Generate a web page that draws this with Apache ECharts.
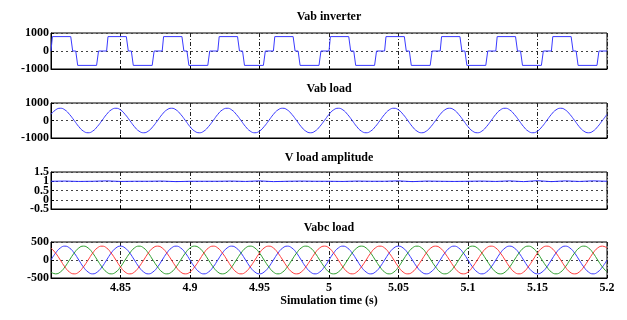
<!DOCTYPE html>
<html>
<head>
<meta charset="utf-8">
<script src="https://cdn.jsdelivr.net/npm/echarts@6/dist/echarts.min.js"></script>
<style>
  html, body { margin: 0; padding: 0; background: #fff; }
  #chart { width: 627px; height: 320px; }
</style>
</head>
<body>
<div id="chart"></div>
<script>
// plot titles
const titles = ["Vab inverter", "Vab load", "V load amplitude", "Vabc load"];
const xName = "Simulation time (s)";

// Vab inverter: corner points of the stepped waveform (time, volts)
const invT = [4.8,
  4.8010, 4.8142, 4.8156, 4.8178, 4.8192, 4.8328, 4.8342, 4.8400,
  4.8410, 4.8542, 4.8556, 4.8578, 4.8592, 4.8728, 4.8742, 4.8800,
  4.8810, 4.8942, 4.8956, 4.8978, 4.8992, 4.9128, 4.9142, 4.9200,
  4.9210, 4.9342, 4.9356, 4.9378, 4.9392, 4.9528, 4.9542, 4.9600,
  4.9610, 4.9742, 4.9756, 4.9778, 4.9792, 4.9928, 4.9942, 5.0000,
  5.0010, 5.0142, 5.0156, 5.0178, 5.0192, 5.0328, 5.0342, 5.0400,
  5.0410, 5.0542, 5.0556, 5.0578, 5.0592, 5.0728, 5.0742, 5.0800,
  5.0810, 5.0942, 5.0956, 5.0978, 5.0992, 5.1128, 5.1142, 5.1200,
  5.1210, 5.1342, 5.1356, 5.1378, 5.1392, 5.1528, 5.1542, 5.1600,
  5.1610, 5.1742, 5.1756, 5.1778, 5.1792, 5.1928, 5.1942, 5.2000];
const invV = [0,
  800, 800, 0, 0, -800, -800, 0, 0,
  800, 800, 0, 0, -800, -800, 0, 0,
  800, 800, 0, 0, -800, -800, 0, 0,
  800, 800, 0, 0, -800, -800, 0, 0,
  800, 800, 0, 0, -800, -800, 0, 0,
  800, 800, 0, 0, -800, -800, 0, 0,
  800, 800, 0, 0, -800, -800, 0, 0,
  800, 800, 0, 0, -800, -800, 0, 0,
  800, 800, 0, 0, -800, -800, 0, 0,
  800, 800, 0, 0, -800, -800, 0, 0];

// sample times for the sinusoidal traces
const tSamp = [
  4.8, 4.8033, 4.8067, 4.81, 4.8133, 4.8167, 4.82, 4.8233, 4.8267, 4.83, 4.8333, 4.8367,
  4.84, 4.8433, 4.8467, 4.85, 4.8533, 4.8567, 4.86, 4.8633, 4.8667, 4.87, 4.8733, 4.8767,
  4.88, 4.8833, 4.8867, 4.89, 4.8933, 4.8967, 4.9, 4.9033, 4.9067, 4.91, 4.9133, 4.9167,
  4.92, 4.9233, 4.9267, 4.93, 4.9333, 4.9367, 4.94, 4.9433, 4.9467, 4.95, 4.9533, 4.9567,
  4.96, 4.9633, 4.9667, 4.97, 4.9733, 4.9767, 4.98, 4.9833, 4.9867, 4.99, 4.9933, 4.9967,
  5.0, 5.0033, 5.0067, 5.01, 5.0133, 5.0167, 5.02, 5.0233, 5.0267, 5.03, 5.0333, 5.0367,
  5.04, 5.0433, 5.0467, 5.05, 5.0533, 5.0567, 5.06, 5.0633, 5.0667, 5.07, 5.0733, 5.0767,
  5.08, 5.0833, 5.0867, 5.09, 5.0933, 5.0967, 5.1, 5.1033, 5.1067, 5.11, 5.1133, 5.1167,
  5.12, 5.1233, 5.1267, 5.13, 5.1333, 5.1367, 5.14, 5.1433, 5.1467, 5.15, 5.1533, 5.1567,
  5.16, 5.1633, 5.1667, 5.17, 5.1733, 5.1767, 5.18, 5.1833, 5.1867, 5.19, 5.1933, 5.1967,
  5.2];

// Vab load (line-line voltage)
const vabLoad = [
  350, 606, 700, 606, 350, 0, -350, -606, -700, -606, -350, 0,
  350, 606, 700, 606, 350, 0, -350, -606, -700, -606, -350, 0,
  350, 606, 700, 606, 350, 0, -350, -606, -700, -606, -350, 0,
  350, 606, 700, 606, 350, 0, -350, -606, -700, -606, -350, 0,
  350, 606, 700, 606, 350, 0, -350, -606, -700, -606, -350, 0,
  350, 606, 700, 606, 350, 0, -350, -606, -700, -606, -350, 0,
  350, 606, 700, 606, 350, 0, -350, -606, -700, -606, -350, 0,
  350, 606, 700, 606, 350, 0, -350, -606, -700, -606, -350, 0,
  350, 606, 700, 606, 350, 0, -350, -606, -700, -606, -350, 0,
  350, 606, 700, 606, 350, 0, -350, -606, -700, -606, -350, 0,
  350];

// Vabc load, phase voltages
const va = [
  0, 193, 334, 385, 334, 193, 0, -193, -334, -385, -334, -193,
  0, 193, 334, 385, 334, 193, 0, -193, -334, -385, -334, -193,
  0, 193, 334, 385, 334, 193, 0, -193, -334, -385, -334, -193,
  0, 193, 334, 385, 334, 193, 0, -193, -334, -385, -334, -193,
  0, 193, 334, 385, 334, 193, 0, -193, -334, -385, -334, -193,
  0, 193, 334, 385, 334, 193, 0, -193, -334, -385, -334, -193,
  0, 193, 334, 385, 334, 193, 0, -193, -334, -385, -334, -193,
  0, 193, 334, 385, 334, 193, 0, -193, -334, -385, -334, -193,
  0, 193, 334, 385, 334, 193, 0, -193, -334, -385, -334, -193,
  0, 193, 334, 385, 334, 193, 0, -193, -334, -385, -334, -193,
  0];
const vb = [
  -334, -385, -334, -193, 0, 193, 334, 385, 334, 193, 0, -193,
  -334, -385, -334, -193, 0, 193, 334, 385, 334, 193, 0, -193,
  -334, -385, -334, -193, 0, 193, 334, 385, 334, 193, 0, -193,
  -334, -385, -334, -193, 0, 193, 334, 385, 334, 193, 0, -193,
  -334, -385, -334, -193, 0, 193, 334, 385, 334, 193, 0, -193,
  -334, -385, -334, -193, 0, 193, 334, 385, 334, 193, 0, -193,
  -334, -385, -334, -193, 0, 193, 334, 385, 334, 193, 0, -193,
  -334, -385, -334, -193, 0, 193, 334, 385, 334, 193, 0, -193,
  -334, -385, -334, -193, 0, 193, 334, 385, 334, 193, 0, -193,
  -334, -385, -334, -193, 0, 193, 334, 385, 334, 193, 0, -193,
  -334];
const vc = [
  334, 193, 0, -193, -334, -385, -334, -193, 0, 193, 334, 385,
  334, 193, 0, -193, -334, -385, -334, -193, 0, 193, 334, 385,
  334, 193, 0, -193, -334, -385, -334, -193, 0, 193, 334, 385,
  334, 193, 0, -193, -334, -385, -334, -193, 0, 193, 334, 385,
  334, 193, 0, -193, -334, -385, -334, -193, 0, 193, 334, 385,
  334, 193, 0, -193, -334, -385, -334, -193, 0, 193, 334, 385,
  334, 193, 0, -193, -334, -385, -334, -193, 0, 193, 334, 385,
  334, 193, 0, -193, -334, -385, -334, -193, 0, 193, 334, 385,
  334, 193, 0, -193, -334, -385, -334, -193, 0, 193, 334, 385,
  334, 193, 0, -193, -334, -385, -334, -193, 0, 193, 334, 385,
  334];

// V load amplitude (per unit)
const ampT = [
  4.8, 4.81, 4.82, 4.83, 4.84, 4.85, 4.86, 4.87, 4.88, 4.89,
  4.9, 4.91, 4.92, 4.93, 4.94, 4.95, 4.96, 4.97, 4.98, 4.99,
  5.0, 5.01, 5.02, 5.03, 5.04, 5.05, 5.06, 5.07, 5.08, 5.09,
  5.1, 5.11, 5.12, 5.13, 5.14, 5.15, 5.16, 5.17, 5.18, 5.19, 5.2];
const ampV = [
  1.0, 1.01, 0.99, 1.0, 1.02, 0.99, 1.0, 1.0, 1.01, 0.98,
  1.0, 1.0, 1.0, 1.01, 0.99, 1.02, 0.98, 1.0, 1.01, 1.0,
  1.0, 0.99, 1.01, 1.0, 1.0, 1.02, 0.98, 1.01, 1.0, 0.99,
  1.0, 1.01, 0.99, 1.02, 0.98, 1.03, 0.98, 1.02, 0.99, 1.02, 1.0];

// y axis settings per panel
const yMins = [-1000, -1000, -0.5, -500];
const yMaxs = [1000, 1000, 1.5, 500];
const ySteps = [1000, 1000, 0.5, 500];
// panel 3 tick labels are split over two axes so the crowded ones all stay visible
const ampLabelsA = ["1.5", "0.5", "-0.5"];
const ampLabelsB = ["1", "0"];

const pairs = (xs, ys) => xs.map((x, i) => [x, ys[i]]);
const fmt = (v) => String(+v.toFixed(2));

const grids = [
  { top: 33, height: 36 },
  { top: 103, height: 35 },
  { top: 172, height: 37 },
  { top: 242, height: 36 },
];
const titleY = [17, 89, 158, 228];
const serif = '"Liberation Serif", "DejaVu Serif", serif';
const textFont = 'bold 12px "Liberation Serif"';
const labelStyle = { color: "#000", fontFamily: serif, fontWeight: "bold", fontSize: 12 };

const yAxes = grids.map((g, i) => ({
  type: "value", gridIndex: i, min: yMins[i], max: yMaxs[i], interval: ySteps[i],
  axisLine: { show: true, lineStyle: { color: "#000" } },
  axisTick: { show: true, inside: true, length: 3, lineStyle: { color: "#000" } },
  axisLabel: Object.assign({
    margin: 2, showMinLabel: true, showMaxLabel: true, hideOverlap: false,
    formatter: i === 2 ? (v) => (ampLabelsA.includes(fmt(v)) ? fmt(v) : "") : fmt,
  }, labelStyle),
  splitLine: { show: true, lineStyle: { color: "#444", width: 1, type: [2, 3] } },
}));
// second label-only axis for panel 3
yAxes.push({
  type: "value", gridIndex: 2, position: "left", min: -0.5, max: 1.5, interval: 0.5,
  axisLine: { show: false }, axisTick: { show: false }, splitLine: { show: false },
  axisLabel: Object.assign({
    margin: 2, showMinLabel: false, showMaxLabel: false, hideOverlap: false,
    formatter: (v) => (ampLabelsB.includes(fmt(v)) ? fmt(v) : ""),
  }, labelStyle),
});

const chart = echarts.init(document.getElementById("chart"));
chart.setOption({
  animation: false,
  backgroundColor: "#fff",
  grid: grids.map((g) => ({
    left: 51, right: 20, top: g.top, height: g.height,
    show: true, borderColor: "#000", borderWidth: 1,
  })),
  xAxis: grids.map((g, i) => ({
    type: "value", gridIndex: i, min: 4.8, max: 5.2, interval: 0.05,
    axisLine: { show: true, onZero: false, lineStyle: { color: "#000" } },
    axisTick: { show: true, inside: true, length: 3, lineStyle: { color: "#000" } },
    axisLabel: Object.assign({
      show: i === 3, showMinLabel: false, showMaxLabel: true, margin: 4, formatter: fmt,
    }, labelStyle),
    splitLine: { show: true, lineStyle: { color: "#222", width: 1, type: [4, 2, 1, 2] } },
  })),
  yAxis: yAxes,
  graphic: titles.map((t, i) => ({
    type: "text", x: 329, y: titleY[i],
    style: { text: t, align: "center", verticalAlign: "middle", font: textFont, fill: "#000" },
  })).concat([{
    type: "text", x: 329, y: 301,
    style: { text: xName, align: "center", verticalAlign: "middle", font: textFont, fill: "#000" },
  }]),
  series: [
    {
      type: "line", xAxisIndex: 0, yAxisIndex: 0, showSymbol: false,
      lineStyle: { color: "#3a3aff", width: 1 }, data: pairs(invT, invV),
    },
    {
      type: "line", xAxisIndex: 1, yAxisIndex: 1, showSymbol: false, smooth: true,
      lineStyle: { color: "#3a3aff", width: 1 }, data: pairs(tSamp, vabLoad),
    },
    {
      type: "line", xAxisIndex: 2, yAxisIndex: 2, showSymbol: false,
      lineStyle: { color: "#2a2aff", width: 1 }, data: pairs(ampT, ampV),
    },
    {
      type: "line", xAxisIndex: 3, yAxisIndex: 3, showSymbol: false, smooth: true,
      lineStyle: { color: "#3a3aff", width: 1 }, data: pairs(tSamp, va),
    },
    {
      type: "line", xAxisIndex: 3, yAxisIndex: 3, showSymbol: false, smooth: true,
      lineStyle: { color: "#2e9e2e", width: 1 }, data: pairs(tSamp, vb),
    },
    {
      type: "line", xAxisIndex: 3, yAxisIndex: 3, showSymbol: false, smooth: true,
      lineStyle: { color: "#ff3a3a", width: 1 }, data: pairs(tSamp, vc),
    },
  ],
});
</script>
</body>
</html>
